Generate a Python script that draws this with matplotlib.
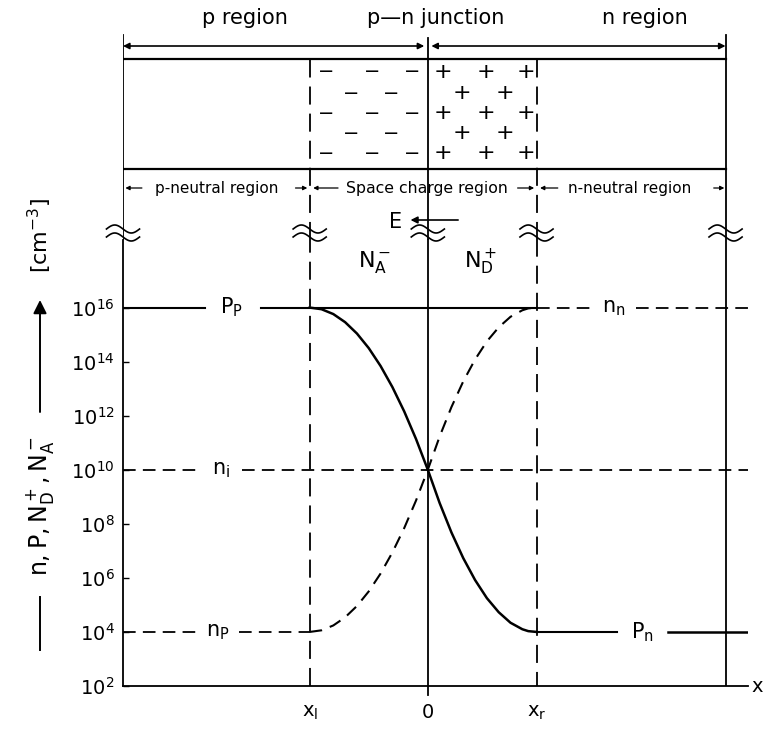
import numpy as np
import matplotlib.pyplot as plt
from matplotlib.patches import FancyArrowPatch

plt.rcParams['font.family'] = ['DejaVu Sans']
plt.rcParams['mathtext.default'] = 'regular'

# positions along x (arbitrary units, junction at 0)
x_l, x_0, x_r = -1.0, 0.0, 0.92
x_min, x_edge, x_max = -2.58, 2.52, 2.71

# carrier / doping levels [cm^-3]
p_p, n_n = 1e16, 1e16
n_i = 1e10
n_p, p_n = 1e4, 1e4
decades = [2, 4, 6, 8, 10, 12, 14, 16]

# hole and electron profiles across the space charge region (log10 values)
x_sc = [-1.0, -0.9, -0.8, -0.7, -0.6, -0.5, -0.4, -0.3, -0.2, -0.1, 0.0,
        0.1, 0.2, 0.3, 0.4, 0.5, 0.6, 0.7, 0.8, 0.85, 0.92]
log_p = [16.0, 15.94, 15.76, 15.46, 15.04, 14.5, 13.84, 13.06, 12.16, 11.14, 10.0,
         8.77, 7.68, 6.73, 5.92, 5.25, 4.73, 4.34, 4.10, 4.03, 4.0]
log_n = [4.0, 4.06, 4.24, 4.54, 4.96, 5.5, 6.16, 6.94, 7.84, 8.86, 10.0,
         11.23, 12.32, 13.27, 14.08, 14.75, 15.27, 15.66, 15.90, 15.97, 16.0]

lw = 1.3
dash = (0, (7, 4))
long_dash = (0, (10, 5))

fig = plt.figure(figsize=(7.65, 7.32), dpi=100)
ax = fig.add_axes([123 / 765, 46 / 732, 625 / 765, 446 / 732])
ax.set_yscale('log')
ax.set_xlim(x_min, x_max)
ax.set_ylim(1e2, 10 ** 18.5)
for s in ['top', 'right']:
    ax.spines[s].set_visible(False)
for s in ['left', 'bottom']:
    ax.spines[s].set_linewidth(lw)

ax.set_yticks([10.0 ** k for k in decades])
ax.set_yticklabels([f'$10^{{{k}}}$' for k in decades], fontsize=14)
ax.yaxis.set_minor_locator(plt.NullLocator())
ax.tick_params(axis='y', direction='in', length=4, width=1, pad=6)
ax.set_xticks([x_l, x_0, x_r])
ax.set_xticklabels(['$x_l$', '0', '$x_r$'], fontsize=14)
ax.tick_params(axis='x', length=0, pad=12)
ax.text(1.005, 0, 'x', transform=ax.transAxes, fontsize=14, va='center')

# vertical boundaries
ax.axvline(x_l, color='k', lw=lw, ls=long_dash)
ax.axvline(x_r, color='k', lw=lw, ls=long_dash, ymin=-0.01)
ax.axvline(x_0, color='k', lw=lw, ymin=-0.02, clip_on=False)
ax.axvline(x_edge, color='k', lw=lw)

# concentration profiles
p_vals = [10.0 ** v for v in log_p]
n_vals = [10.0 ** v for v in log_n]
ax.plot(x_sc, p_vals, color='k', lw=1.8)
ax.plot(x_sc, n_vals, color='k', lw=1.5, ls=(0, (6, 4)))

# neutral-region levels with labels
ax.plot([x_min, -1.89], [p_p, p_p], color='k', lw=1.5)
ax.plot([-1.41, x_r], [p_p, p_p], color='k', lw=1.5)
ax.text(-1.66, p_p, '$P_P$', fontsize=15, ha='center', va='center')

ax.plot([x_r, 1.38], [n_n, n_n], color='k', lw=lw, ls=dash)
ax.plot([1.76, x_max], [n_n, n_n], color='k', lw=lw, ls=dash)
ax.text(1.57, n_n, '$n_n$', fontsize=15, ha='center', va='center')

ax.plot([x_min, -1.93], [n_i, n_i], color='k', lw=lw, ls=dash)
ax.plot([-1.57, x_max], [n_i, n_i], color='k', lw=lw, ls=dash)
ax.text(-1.75, n_i, '$n_i$', fontsize=15, ha='center', va='center')

ax.plot([x_min, -1.96], [n_p, n_p], color='k', lw=lw, ls=dash)
ax.plot([-1.6, x_l], [n_p, n_p], color='k', lw=lw, ls=dash)
ax.text(-1.78, n_p, '$n_P$', fontsize=15, ha='center', va='center')

ax.plot([x_r, 1.6], [p_n, p_n], color='k', lw=1.5)
ax.plot([2.03, x_max], [p_n, p_n], color='k', lw=1.8)
ax.text(1.82, p_n, '$P_n$', fontsize=15, ha='center', va='center')

# schematic of the junction above the plot
top = fig.add_axes([123 / 765, 1 - 240 / 732, 625 / 765, 240 / 732], sharex=ax)
top.set_ylim(240, 0)
top.axis('off')

y_arrow, y_box_top, y_box_bot = 46, 59, 169
top.plot([x_min, x_min], [240, 35], color='k', lw=lw)
top.plot([x_edge, x_edge], [240, 35], color='k', lw=lw)
top.plot([x_0, x_0], [240, 38], color='k', lw=lw)
top.plot([x_l, x_l], [240, y_box_top], color='k', lw=lw, ls=long_dash)
top.plot([x_r, x_r], [240, y_box_top], color='k', lw=lw, ls=long_dash)
top.plot([x_min, x_edge], [y_box_top, y_box_top], color='k', lw=1.6)
top.plot([x_min, x_edge], [y_box_bot, y_box_bot], color='k', lw=1.6)

arrow = dict(arrowstyle='<|-|>', color='k', lw=1.2, mutation_scale=9, shrinkA=0, shrinkB=0)
top.annotate('', xy=(x_min, y_arrow), xytext=(x_0 - 0.03, y_arrow), arrowprops=arrow)
top.annotate('', xy=(x_0 + 0.03, y_arrow), xytext=(x_edge, y_arrow), arrowprops=arrow)

top.text(-1.55, 18, 'p region', fontsize=15, ha='center', va='center')
top.text(0.07, 18, 'p\u2014n junction', fontsize=15, ha='center', va='center')
top.text(1.84, 18, 'n region', fontsize=15, ha='center', va='center')

# fixed charges in the space charge region
charge_rows = [72, 93, 113, 133, 153]
minus_cols = [[-0.86, -0.47, -0.13], [-0.65, -0.31]]
plus_cols = [[0.13, 0.49, 0.83], [0.29, 0.65]]
for i, yr in enumerate(charge_rows):
    for xc in minus_cols[i % 2]:
        top.text(xc, yr, '\u2212', fontsize=14, ha='center', va='center')
    for xc in plus_cols[i % 2]:
        top.text(xc, yr, '+', fontsize=16, ha='center', va='center')

# region labels below the box
y_reg = 188
top.text(-1.79, y_reg, 'p-neutral region', fontsize=11, ha='center', va='center')
top.text(-0.01, y_reg, 'Space charge region', fontsize=11.3, ha='center', va='center')
top.text(1.71, y_reg, 'n-neutral region', fontsize=11, ha='center', va='center')
small = dict(arrowstyle='-|>', color='k', lw=0.9, mutation_scale=6, shrinkA=0, shrinkB=0)
for x_from, x_to in [(-2.42, x_min + 0.02), (-1.12, x_l - 0.02), (-0.76, x_l + 0.03),
                     (0.76, x_r - 0.02), (1.10, x_r + 0.03), (2.42, x_edge - 0.01)]:
    top.annotate('', xy=(x_to, y_reg), xytext=(x_from, y_reg), arrowprops=small)

# electric field
top.annotate('', xy=(-0.17, 220), xytext=(0.28, 220),
             arrowprops=dict(arrowstyle='-|>', color='k', lw=1.2, mutation_scale=10))
top.text(-0.27, 222, 'E', fontsize=15, ha='center', va='center')

# axis-break marks
t = np.linspace(0, 1, 40)
for xb in [x_min, x_l, x_0, x_r, x_edge]:
    for dy in (-4, 4):
        top.plot(xb - 0.14 + 0.28 * t, 233 + dy - 4 * np.sin(2 * np.pi * t),
                 color='k', lw=1.2, clip_on=False)

top.text(-0.45, 262, '$N_A^-$', fontsize=16, ha='center', va='center')
top.text(0.45, 262, '$N_D^+$', fontsize=16, ha='center', va='center')

# y-axis label with arrow
fig.add_artist(plt.Line2D([40 / 765, 40 / 765], [1 - 650 / 732, 1 - 597 / 732],
                          color='k', lw=1.4, transform=fig.transFigure))
fig.text(40 / 765, 1 - 506 / 732, '$n, P, N_D^+, N_A^-$', rotation=90,
         fontsize=17, ha='center', va='center')
fig.add_artist(FancyArrowPatch(
    (40 / 765, 1 - 412 / 732), (40 / 765, 1 - 300 / 732), transform=fig.transFigure,
    arrowstyle='-|>', mutation_scale=20, color='k', lw=1.4, shrinkA=0, shrinkB=0))
fig.text(40 / 765, 1 - 235 / 732, '[cm$^{-3}$]', rotation=90,
         fontsize=16, ha='center', va='center')

fig.savefig('out.png', dpi=100, facecolor='white')
